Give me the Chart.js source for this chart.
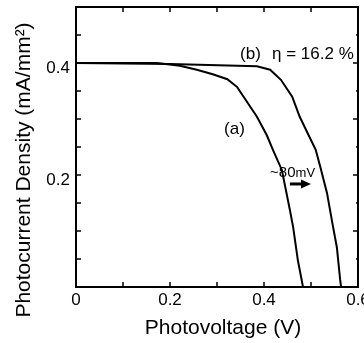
<!DOCTYPE html>
<html>
<head>
<meta charset="utf-8">
<script src="https://cdn.jsdelivr.net/npm/chart.js@4/dist/chart.umd.min.js"></script>
<style>
  html, body { margin: 0; padding: 0; background: #fff; }
  #chart { display: block; }
</style>
</head>
<body>
<canvas id="chart" width="364" height="343"></canvas>
<script>
// curve (a)
var voltageA = [0, 0.172, 0.221, 0.257, 0.291, 0.322, 0.343, 0.358, 0.385, 0.406, 0.419, 0.438, 0.455, 0.462, 0.472, 0.483];
var currentA = [0.400, 0.400, 0.395, 0.388, 0.380, 0.371, 0.357, 0.338, 0.304, 0.271, 0.245, 0.209, 0.138, 0.107, 0.048, 0.0];
// curve (b)
var voltageB = [0, 0.2, 0.385, 0.413, 0.436, 0.460, 0.476, 0.495, 0.510, 0.520, 0.534, 0.547, 0.555, 0.562, 0.564];
var currentB = [0.400, 0.398, 0.394, 0.388, 0.370, 0.340, 0.304, 0.271, 0.245, 0.214, 0.168, 0.107, 0.071, 0.013, 0.0];

// labelled ticks
var xTicks = [0, 0.2, 0.4, 0.6];
var yTicks = [0.2, 0.4];

var xTitle = 'Photovoltage (V)';
var yTitle = 'Photocurrent Density (mA/mm\u00B2)';
var labelA = '(a)';
var labelB = '(b)';
var efficiency = '\u03B7 = 16.2 %';
var shiftText = '~80';
var shiftUnit = 'mV';

var FONT = '"Liberation Sans", Arial, sans-serif';

function toPoints(xs, ys) {
  return xs.map(function(x, i) { return { x: x, y: ys[i] }; });
}

function inList(list, v) {
  return list.some(function(t) { return Math.abs(t - v) < 1e-6; });
}

function tickText(list) {
  return function(v) {
    if (!inList(list, v)) return '';
    return Math.abs(v) < 1e-9 ? '0' : v.toFixed(1);
  };
}

// inward ticks on all four sides, axis titles and the notes on the plot
var framePlugin = {
  id: 'frame',
  afterDraw: function(chart) {
    var ctx = chart.ctx, a = chart.chartArea;
    var xs = chart.scales.x, ys = chart.scales.y;
    ctx.save();
    ctx.strokeStyle = '#000';
    ctx.lineWidth = 1.5;
    ctx.beginPath();
    xs.ticks.forEach(function(t) {
      var px = xs.getPixelForValue(t.value);
      ctx.moveTo(px, a.bottom); ctx.lineTo(px, a.bottom - 5);
      ctx.moveTo(px, a.top); ctx.lineTo(px, a.top + 5);
    });
    ys.ticks.forEach(function(t) {
      var py = ys.getPixelForValue(t.value);
      var major = Math.abs(t.value * 10 - Math.round(t.value * 10)) < 1e-6;
      ctx.moveTo(a.left, py); ctx.lineTo(a.left + 5, py);
      ctx.moveTo(a.right, py); ctx.lineTo(a.right - (major ? 5 : 2), py);
    });
    ctx.stroke();

    ctx.fillStyle = '#000';

    // axis titles
    ctx.font = '21px ' + FONT;
    ctx.textAlign = 'center';
    ctx.textBaseline = 'alphabetic';
    ctx.fillText(xTitle, (a.left + a.right) / 2 + 6, chart.height - 9);
    ctx.save();
    ctx.translate(30, (a.top + a.bottom) / 2 + 23);
    ctx.rotate(-Math.PI / 2);
    ctx.fillText(yTitle, 0, 0);
    ctx.restore();

    // curve labels
    ctx.textAlign = 'left';
    ctx.font = '17px ' + FONT;
    ctx.fillText(labelB, xs.getPixelForValue(0.349), ys.getPixelForValue(0.407));
    ctx.fillText(efficiency, xs.getPixelForValue(0.417), ys.getPixelForValue(0.407));
    ctx.fillText(labelA, xs.getPixelForValue(0.315), ys.getPixelForValue(0.273));

    // ~80 mV shift note
    var sx = xs.getPixelForValue(0.413), sy = ys.getPixelForValue(0.197);
    ctx.font = '15px ' + FONT;
    ctx.fillText(shiftText, sx, sy);
    var w = ctx.measureText(shiftText).width;
    ctx.font = '13px ' + FONT;
    ctx.fillText(shiftUnit, sx + w, sy);

    // arrow
    var ax0 = xs.getPixelForValue(0.455), ax1 = xs.getPixelForValue(0.5);
    var ay = ys.getPixelForValue(0.184);
    ctx.lineWidth = 3;
    ctx.beginPath();
    ctx.moveTo(ax0, ay); ctx.lineTo(ax1 - 8, ay);
    ctx.stroke();
    ctx.beginPath();
    ctx.moveTo(ax1, ay);
    ctx.lineTo(ax1 - 10, ay - 4.5);
    ctx.lineTo(ax1 - 10, ay + 4.5);
    ctx.closePath();
    ctx.fill();
    ctx.restore();
  }
};

var ctx = document.getElementById('chart').getContext('2d');
var chart = new Chart(ctx, {
  type: 'line',
  data: {
    datasets: [
      { label: 'a', data: toPoints(voltageA, currentA), borderColor: '#000', borderWidth: 2, pointRadius: 0, tension: 0, fill: false },
      { label: 'b', data: toPoints(voltageB, currentB), borderColor: '#000', borderWidth: 2, pointRadius: 0, tension: 0, fill: false }
    ]
  },
  options: {
    responsive: false,
    animation: false,
    events: [],
    layout: { padding: { top: 7, right: 6, left: 0, bottom: 0 } },
    plugins: { legend: { display: false }, tooltip: { enabled: false } },
    scales: {
      x: {
        type: 'linear', position: 'bottom', min: 0, max: 0.6,
        grid: { display: false, drawTicks: false },
        border: { display: true, color: '#000', width: 2 },
        ticks: { stepSize: 0.1, autoSkip: false, maxRotation: 0, padding: 3, color: '#000',
                 font: { family: FONT, size: 17 }, callback: tickText(xTicks) },
        afterFit: function(s) { s.height = 56; s.paddingLeft = 0; s.paddingRight = 0; }
      },
      x2: {
        type: 'linear', position: 'top', min: 0, max: 0.6,
        grid: { display: false, drawTicks: false },
        border: { display: true, color: '#000', width: 2 },
        ticks: { display: false },
        afterFit: function(s) { s.height = 0; s.paddingLeft = 0; s.paddingRight = 0; }
      },
      y: {
        type: 'linear', position: 'left', min: 0, max: 0.5,
        grid: { display: false, drawTicks: false },
        border: { display: true, color: '#000', width: 2 },
        ticks: { stepSize: 0.05, autoSkip: false, padding: 6, labelOffset: 5, color: '#000',
                 font: { family: FONT, size: 17 }, callback: tickText(yTicks) },
        afterFit: function(s) { s.width = 76; s.paddingTop = 0; s.paddingBottom = 0; }
      },
      y2: {
        type: 'linear', position: 'right', min: 0, max: 0.5,
        grid: { display: false, drawTicks: false },
        border: { display: true, color: '#000', width: 2 },
        ticks: { display: false },
        afterFit: function(s) { s.width = 0; s.paddingTop = 0; s.paddingBottom = 0; }
      }
    }
  },
  plugins: [framePlugin]
});
</script>
</body>
</html>
